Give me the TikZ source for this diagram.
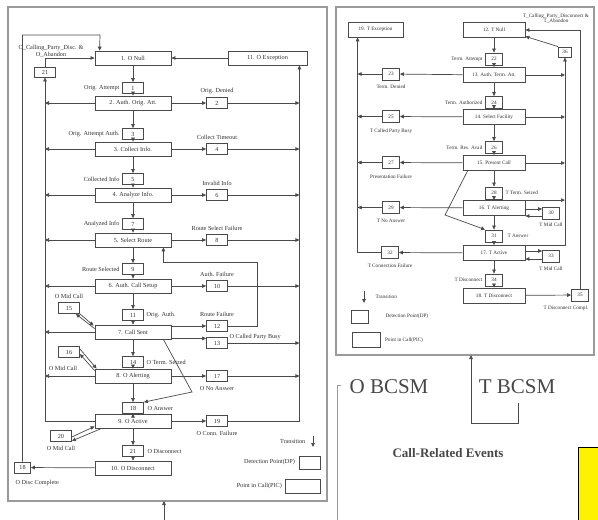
\documentclass[tikz,border=0pt]{standalone}
\usepackage{fontspec}
\setmainfont{Liberation Serif}
\usetikzlibrary{arrows.meta,positioning,calc}
\definecolor{lnc}{HTML}{4A4A4A}
\definecolor{frc}{HTML}{9A9A9A}
\definecolor{txc}{HTML}{303030}
\newcommand{\ofont}{\fontsize{6.2}{6.8}\selectfont}
\newcommand{\tfont}{\fontsize{5.2}{5.8}\selectfont}
\tikzset{
  picbox/.style={draw=lnc, line width=0.8pt, fill=white, minimum width=#1, minimum height=14pt, inner sep=1pt, text=txc},
  picbox/.default=76pt,
  tpic/.style={picbox=62pt, minimum height=15pt},
  dpbox/.style={draw=lnc, line width=0.8pt, fill=white, minimum width=21pt, minimum height=11pt, inner sep=0.5pt, text=txc},
  tdp/.style={dpbox, minimum width=17pt, minimum height=12pt},
  lbl/.style={inner sep=0.5pt, text=txc},
  flow/.style={-{Triangle[length=4pt,width=3.6pt]}, draw=lnc, line width=0.7pt},
  wire/.style={draw=lnc, line width=0.7pt},
  frame/.style={draw=frc, line width=1.1pt},
  big/.style={text=black!72, font=\fontsize{21}{24}\selectfont},
}
\def\xO{133}
\def\xOR{217}
\def\xOL{69}
\def\xT{494}
\def\xTL{391}
\def\xTR{551}

\begin{document}
\begin{tikzpicture}[x=1pt,y=-1pt,font=\ofont]
  \useasboundingbox (0,0) rectangle (598,520);
  % O BCSM
  \draw[frame] (8,7) rectangle (327,501);
  \node[picbox] (null) at (\xO,58) {1. O Null};
  \node[picbox=79pt] (exc) at (267.5,58) {11. O Exception};
  \node[dpbox] (d1) at (\xO,88) {1};
  \node[lbl, left=2pt of d1] {Orig. Attempt};
  \node[picbox] (auth) at (\xO,103) {2. Auth. Orig. Att.};
  \node[dpbox] (d2) at (\xOR,103) {2};
  \node[lbl, above=3pt of d2] {Orig. Denied};
  \node[dpbox] (d3) at (\xO,134) {3};
  \node[lbl, left=2pt of d3] {Orig. Attempt Auth.};
  \node[picbox] (coll) at (\xO,149) {3. Collect Info.};
  \node[dpbox] (d4) at (\xOR,149) {4};
  \node[lbl, above=3pt of d4] {Collect Timeout};
  \node[dpbox] (d5) at (\xO,179) {5};
  \node[lbl, left=2pt of d5] {Collected Info};
  \node[picbox] (anlz) at (\xO,195) {4. Analyze Info.};
  \node[dpbox] (d6) at (\xOR,195) {6};
  \node[lbl, above=3pt of d6] {Invalid Info};
  \node[dpbox] (d7) at (\xO,224) {7};
  \node[lbl, left=2pt of d7] {Analyzed Info};
  \node[picbox] (route) at (\xO,240) {5. Select Route};
  \node[dpbox] (d8) at (\xOR,240) {8};
  \node[lbl, above=3pt of d8] {Route Select Failure};
  \node[dpbox] (d9) at (\xO,269) {9};
  \node[lbl, left=2pt of d9] {Route Selected};
  \node[picbox] (setup) at (\xO,286) {6. Auth. Call Setup};
  \node[dpbox] (d10) at (\xOR,286) {10};
  \node[lbl, above=3pt of d10] {Auth. Failure};
  \node[dpbox] (d11) at (\xO,315) {11};
  \node[lbl, right=2pt of d11] {Orig. Auth.};
  \node[picbox] (sent) at (\xO,332) {7. Call Sent};
  \node[dpbox] (d12) at (\xOR,326) {12};
  \node[lbl, above=3pt of d12] {Route Failure};
  \node[dpbox] (d13) at (\xOR,343) {13};
  \node[lbl, anchor=west] at ([xshift=1pt]d13.north east) {O Called Party Busy};
  \node[dpbox] (d15) at (\xOL,308) {15};
  \node[lbl, above=3pt of d15] {O Mid Call};
  \node[dpbox] (d14) at (\xO,362) {14};
  \node[lbl, right=2pt of d14] {O Term. Seized};
  \node[dpbox] (d16) at (\xOL,352) {16};
  \node[lbl] at (63,368) {O Mid Call};
  \node[picbox] (alert) at (\xO,376) {8. O Alerting};
  \node[dpbox] (d17) at (\xOR,376) {17};
  \node[lbl, below=4pt of d17] {O No Answer};
  \node[dpbox] (d18) at (\xO,408) {18};
  \node[lbl, right=3pt of d18] {O Answer};
  \node[picbox] (active) at (\xO,421) {9. O Active};
  \node[dpbox] (d19) at (\xOR,421) {19};
  \node[lbl, below=4pt of d19] {O Conn. Failure};
  \node[dpbox] (d20) at (61,436) {20};
  \node[lbl, below=4pt of d20] {O Mid Call};
  \node[dpbox] (d21) at (\xO,451) {21};
  \node[lbl, right=3pt of d21] {O Disconnect};
  \node[picbox] (disc) at (\xO,468) {10. O Disconnect};
  \node[dpbox, minimum width=16pt] (dc) at (22.5,467.5) {18};
  \node[lbl, anchor=west] at (15,483) {O Disc Complete};
  \node[dpbox, minimum height=10pt] (ab) at (45,72) {21};
  \node[lbl, align=center] at (51,51) {O\_Calling\_Party\_Disc. \&\\O\_Abandon};
  \coordinate (colR) at ([xshift=-8pt]exc.south east);
  \coordinate (rtop) at (100,35);
  \coordinate (ansb) at (192,392);
  \coordinate (rfl) at (257,262);
  % transitions down the column
  \draw[flow] (null) -- (d1); \draw[flow] (d1) -- (auth); \draw[flow] (auth) -- (d3);
  \draw[flow] (d3) -- (coll); \draw[flow] (coll) -- (d5); \draw[flow] (d5) -- (anlz);
  \draw[flow] (anlz) -- (d7); \draw[flow] (d7) -- (route); \draw[flow] (route) -- (d9);
  \draw[flow] (d9) -- (setup); \draw[flow] (setup) -- (d11); \draw[flow] (d11) -- (sent);
  \draw[flow] (sent) -- (d14); \draw[flow] (d14) -- (alert); \draw[flow] (alert) -- (d18);
  \draw[flow] (d18) -- (active); \draw[flow] (active) -- (d21); \draw[flow] (d21) -- (disc);
  % failures to the exception
  \draw[flow] (auth) -- (d2); \draw[flow] (d2) -- (d2 -| colR);
  \draw[flow] (coll) -- (d4); \draw[flow] (d4) -- (d4 -| colR);
  \draw[flow] (anlz) -- (d6); \draw[flow] (d6) -- (d6 -| colR);
  \draw[flow] (route) -- (d8); \draw[flow] (d8) -- (d8 -| colR);
  \draw[flow] (setup) -- (d10); \draw[flow] (d10) -- (d10 -| colR);
  \draw[flow] (sent.east |- d12) -- (d12);
  \draw[flow] (d12) -| (rfl) -| ([xshift=-8pt]route.south east);
  \draw[flow] ([yshift=1pt]sent.south east) -- ([yshift=1pt]sent.south east -| d13.west);
  \draw[flow] (d13) -- (d13 -| colR);
  \draw[flow] (alert) -- (d17); \draw[flow] (d17) -- (d17 -| colR);
  \draw[flow] (active) -- (d19); \draw[flow] (d19) -| (colR);
  \draw[flow] (exc) -- (null);
  \draw[flow] ([xshift=-8pt]sent.south east) -- (ansb) -- (d18.north east);
  % mid call
  \draw[flow] (d15.south east) -- ([xshift=-1pt,yshift=-1pt]sent.north west);
  \draw[flow] ([yshift=-4pt]sent.north west) -- ([xshift=-4pt]d15.south east);
  \draw[flow] ([yshift=3pt]d16.east) -- ([xshift=2pt]alert.north west);
  \draw[flow] ([yshift=-2pt]alert.north west) -- ([yshift=-2pt]d16.east);
  \draw[flow] ([xshift=7pt]active.south west) -- ([yshift=1pt]d20.south east);
  \draw[flow] ([yshift=-1pt]d20.east) -- ([yshift=2pt]active.south west);
  % abandon and disconnect
  \draw[flow] (auth) -- (auth -| ab); \draw[flow] (coll) -- (coll -| ab);
  \draw[flow] (anlz) -- (anlz -| ab); \draw[flow] (route) -- (route -| ab);
  \draw[flow] (setup) -- (setup -| ab); \draw[flow] (sent) -- (sent -| ab);
  \draw[flow] (alert) -- (alert -| ab); \draw[flow] (active) -| (ab);
  \draw[flow] (ab) |- (null);
  \draw[flow] (disc) -- (dc);
  \draw[flow] (dc) |- (rtop) -- ([xshift=5pt]null.north west);
  % legend
  \node[lbl, anchor=east] (ltr) at (306,441) {Transition};
  \draw[flow] ([xshift=7pt,yshift=5pt]ltr.east) -- ([xshift=7pt,yshift=-6pt]ltr.east);
  \node[dpbox, minimum height=13pt] (ldp) at (309.5,462.5) {};
  \node[lbl, left=3pt of ldp] {Detection Point(DP)};
  \node[picbox=35pt] (lpic) at (302.5,486) {};
  \node[lbl, left=2pt of lpic] {Point in Call(PIC)};
  \coordinate (obot) at (164,520);
  \coordinate (otop) at (164,501);
  \draw[flow] (obot) -- (otop);

  % T BCSM
  \begin{scope}[font=\tfont]
  \draw[frame] (336,7) rectangle (594,355);
  \node[tpic, minimum width=55pt] (texc) at (375.5,29.5) {19. T Exception};
  \node[tpic] (tnull) at (\xT,30) {12. T Null};
  \node[tdp] (e22) at (\xT,59) {22};
  \node[lbl, left=2pt of e22] {Term. Attempt};
  \node[tpic] (tauth) at (\xT,75) {13. Auth. Term. Att.};
  \node[tdp] (e23) at (\xTL,74) {23};
  \node[lbl, below=4pt of e23] {Term. Denied};
  \node[tdp] (e24) at (\xT,102.5) {24};
  \node[lbl, left=2pt of e24] {Term. Authorized};
  \node[tpic] (tsel) at (\xT,117) {14. Select Facility};
  \node[tdp] (e25) at (\xTL,116.5) {25};
  \node[lbl, below=5pt of e25] {T Called Party Busy};
  \node[tdp] (e26) at (\xT,147.5) {26};
  \node[lbl, left=2pt of e26] {Term. Res. Avail};
  \node[tpic] (tpres) at (\xT,163) {15. Present Call};
  \node[tdp] (e27) at (\xTL,162.5) {27};
  \node[lbl, below=5pt of e27] {Presentation Failure};
  \node[tdp] (e28) at (\xT,193) {28};
  \node[lbl, right=2pt of e28] {T Term. Seized};
  \node[tpic] (talert) at (\xT,208) {16. T Alerting};
  \node[tdp] (e29) at (\xTL,207.5) {29};
  \node[lbl, below=4pt of e29] {T No Answer};
  \node[tdp] (e30) at (\xTR,213) {30};
  \node[lbl, below=3pt of e30] {T Mid Call};
  \node[tdp] (e31) at (\xT,236) {31};
  \node[lbl, right=4pt of e31] {T Answer};
  \node[tpic] (tact) at (\xT,253) {17. T Active};
  \node[tdp] (e32) at (390,252.5) {32};
  \node[lbl, below=4pt of e32] {T Connection Failure};
  \node[tdp] (e33) at (\xTR,256) {33};
  \node[lbl, below=4pt of e33] {T Mid Call};
  \node[tdp] (e34) at (\xT,280) {34};
  \node[lbl, left=2pt of e34] {T Disconnect};
  \node[tpic] (tdisc) at (\xT,295.5) {18. T Disconnect};
  \node[tdp] (e35) at (580,295) {35};
  \node[lbl, anchor=north] at ([xshift=-14pt,yshift=-4pt]e35.south) {T Disconnect Compl.};
  \node[tdp, minimum width=13pt, minimum height=10pt] (e36) at (565,52) {36};
  \node[lbl, align=center] at (556,18.5) {T\_Calling\_Party\_Disconnect \&\\T\_Abandon};
  \coordinate (colTL) at ([xshift=10pt]texc.south west);
  \coordinate (colTR) at (e36.south);
  \coordinate (tbend) at (445,215);
  % transitions down the column
  \draw[flow] (tnull) -- (e22); \draw[flow] (e22) -- (tauth); \draw[flow] (tauth) -- (e24);
  \draw[flow] (e24) -- (tsel); \draw[flow] (tsel) -- (e26); \draw[flow] (e26) -- (tpres);
  \draw[flow] (tpres) -- (e28); \draw[flow] (e28) -- (talert); \draw[flow] (talert) -- (e31);
  \draw[flow] (e31) -- (tact); \draw[flow] (tact) -- (e34); \draw[flow] (e34) -- (tdisc);
  % failures to the exception
  \draw[flow] (tauth) -- (e23); \draw[flow] (e23) -- (e23 -| colTL);
  \draw[flow] (tsel) -- (e25); \draw[flow] (e25) -- (e25 -| colTL);
  \draw[flow] (tpres) -- (e27); \draw[flow] (e27) -- (e27 -| colTL);
  \draw[flow] (talert) -- (e29); \draw[flow] (e29) -- (e29 -| colTL);
  \draw[flow] (tact) -- (e32); \draw[flow] (e32) -| (colTL);
  % abandon
  \draw[flow] (tauth) -- (tauth -| colTR); \draw[flow] (tsel) -- (tsel -| colTR);
  \draw[flow] (tpres) -- (tpres -| colTR);
  \draw[flow] (talert.north east) -- (talert.north east -| colTR);
  \draw[flow] (tact.north east) -| (colTR);
  \draw[flow] (e36.north west) -- ([yshift=1.5pt]tnull.south east);
  % answer, mid call, disconnect
  \draw[flow] ([xshift=5pt]tpres.south west) -- (tbend) -- (e31.north west);
  \draw[flow] ([yshift=-1pt]talert.east) -- ([yshift=-1pt]talert.east -| e30.west);
  \draw[flow] ([yshift=-8pt]talert.east -| e30.west) -- ([yshift=-8pt]talert.east);
  \draw[flow] ([yshift=2pt]tact.east) -- ([yshift=2pt]tact.east -| e33.west);
  \draw[flow] ([yshift=-6pt]tact.east -| e33.west) -- ([yshift=-6pt]tact.east);
  \draw[flow] (tdisc) -- (e35);
  \draw[flow] (e35) |- (tnull);
  % legend
  \node[lbl, anchor=west] (rtr) at (375,297) {Transition};
  \draw[flow] ([xshift=-11pt,yshift=6pt]rtr.west) -- ([xshift=-11pt,yshift=-6pt]rtr.west);
  \node[tdp, minimum height=13pt] (rdp) at (360,316.5) {};
  \node[lbl, right=16pt of rdp] {Detection Point(DP)};
  \node[picbox=28pt, minimum height=15pt] (rpic) at (366,340) {};
  \node[lbl, right=4pt of rpic] {Point in Call(PIC)};
  \end{scope}

  % call-related events
  \node[big] (ob) at (389,387) {O BCSM};
  \node[big] (tb) at (517,387) {T BCSM};
  \draw[draw=frc, line width=0.9pt] (341,385) -- (337,385) -- (337,520);
  \coordinate (tb1) at (518,403);
  \coordinate (tb2) at (471,423);
  \coordinate (ttop) at (471,355);
  \draw[flow] (tb1) |- (tb2) -- (ttop);
  \node[text=black!72, font=\fontsize{13}{15}\selectfont\bfseries] (cre) at (448,453) {Call-Related Events};
  \draw[black, line width=1.5pt, fill=yellow] (578.5,447.5) rectangle (605,525);
\end{tikzpicture}
\end{document}
